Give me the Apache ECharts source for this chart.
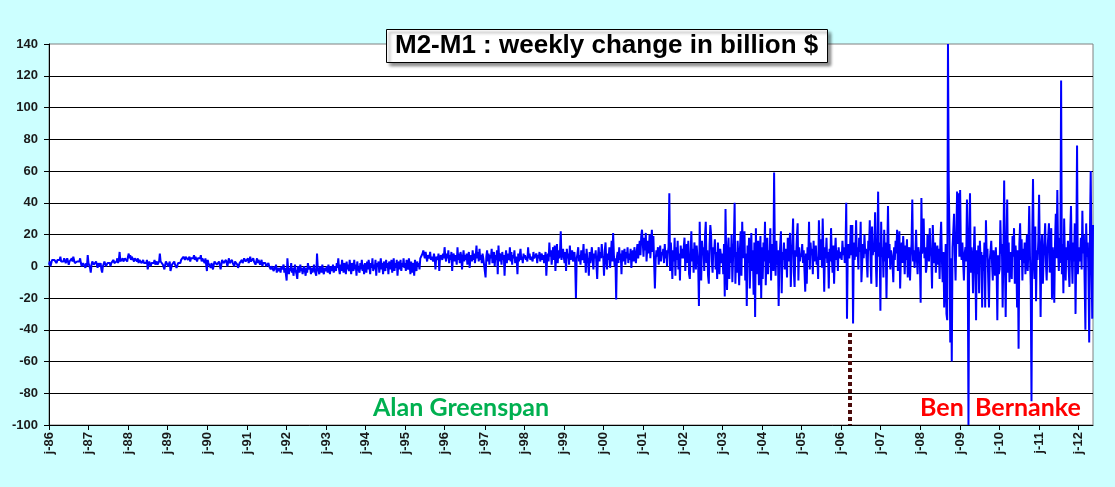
<!DOCTYPE html>
<html>
<head>
<meta charset="utf-8">
<script src="https://cdn.jsdelivr.net/npm/echarts@6/dist/echarts.min.js"></script>
<style>
html,body{margin:0;padding:0;background:#CCFFFF;}
#chart{width:1115px;height:487px;}
</style>
</head>
<body>
<div id="chart"></div>
<script>
// Weekly change of M2-M1, billion $, one array per calendar year (weeks starting Monday)
const y1986 = [1,3,0,2,4,5,3,4,5,3,2,4,5,3,4,6,3,2,4,3,5,4,2,3,5,4,1,3,2,4,5,3,6,4,2,3,1,3,4,2,3,5,2,0,-1,2,1,3,-1,2,0,7];
const y1987 = [2,1,-1,-4,1,3,2,1,0,2,3,1,-1,2,0,1,2,-2,-4,0,1,3,2,0,1,2,1,3,2,0,2,3,1,4,2,3,2,3,5,2,4,9,3,2,4,5,3,2,5,4,6,3];
const y1988 = [6,8,5,7,4,6,7,5,3,5,6,4,3,5,2,4,3,5,2,3,4,2,3,1,2,4,-2,1,3,2,0,2,1,3,2,4,1,2,3,1,2,3,8,3,2,4,1,0,-2,1,3,2];
const y1989 = [2,0,1,3,-3,-2,1,2,0,3,1,2,-1,0,2,1,3,2,4,5,3,6,5,4,6,5,7,4,5,6,3,5,6,4,5,7,4,6,5,3,5,6,4,5,7,3,5,4,6,2,5,4];
const y1990 = [-3,4,2,1,3,-1,2,0,-2,1,3,2,4,1,2,0,3,2,-2,1,4,5,2,3,1,4,2,0,3,5,2,1,3,4,2,1,0,3,2,4,1,-1,-2,2,3,1,4,2,3,5,6,3,2];
const y1991 = [3,5,2,4,6,3,4,2,5,3,4,1,3,5,2,4,3,1,2,4,0,2,3,1,2,0,1,-1,2,0,1,-2,0,1,-1,-3,0,-2,1,-4,-1,0,-3,-1,-4,0,-2,-3,1,-4,-1,-2];
const y1992 = [-9,5,-2,-5,-1,-3,2,-4,-1,-6,-2,1,-3,-5,-8,0,-2,-4,1,-3,-1,-5,-2,0,-3,-6,-1,-4,2,-2,-3,0,-5,-1,-4,-2,1,-3,-2,-6,8,-1,-3,-5,0,-2,-4,1,-3,-5,-1,-2];
const y1993 = [-3,0,-4,1,-2,-5,0,-1,-3,1,-4,-2,0,-3,2,-1,5,-2,-5,1,-3,4,-1,-4,2,0,-5,3,-2,1,-3,4,-1,-5,2,0,-3,4,-2,1,-6,3,-1,0,-4,2,-2,4,-3,1,-5,2];
const y1994 = [1,-4,3,-2,4,0,-5,2,-1,5,-3,1,-2,4,-6,2,0,3,-4,1,5,-2,2,-5,3,0,-3,4,-1,2,-5,3,1,-2,4,-4,0,5,-3,2,-1,4,-6,1,3,-2,4,-3,2,0,5,-1];
const y1995 = [2,-3,4,0,-2,5,1,-5,3,-4,2,0,-6,4,1,-3,3,0,2,-2,5,4,6,8,10,7,5,9,6,3,7,8,5,9,4,6,7,3,8,5,-2,6,7,4,8,-3,5,7,6,4,8,5];
const y1996 = [12,6,3,8,5,10,2,7,4,9,-3,6,8,3,7,5,1,12,4,8,2,9,6,-2,5,10,3,7,4,8,1,6,9,-1,5,7,3,10,4,8,2,6,13,5,9,3,11,4,7,2,8,5,6];
const y1997 = [4,-7,6,10,3,8,1,7,5,11,2,6,9,0,7,4,10,-5,13,3,8,6,1,9,4,7,-6,5,10,2,8,6,4,12,3,9,1,7,5,10,2,6,4,-5,8,3,7,11,4,6,2,8];
const y1998 = [5,7,4,6,3,12,5,8,4,6,7,3,9,5,6,4,8,2,7,5,9,3,6,8,4,7,2,5,9,-6,4,8,3,15,6,10,1,7,12,4,13,-3,8,14,2,10,5,9,22,4,8,11];
const y1999 = [6,2,9,-3,11,5,8,1,13,4,7,10,3,6,9,2,-20,5,8,12,3,7,1,10,4,6,14,2,8,-4,11,5,3,-6,9,2,7,12,4,-2,8,5,10,1,-8,6,12,3,9,5,14,7];
const y2000 = [5,-6,10,15,2,-2,8,4,12,-1,6,16,3,21,7,0,5,-21,6,9,2,12,4,8,-5,10,3,7,11,1,9,5,12,2,8,4,11,-1,7,10,3,12,6,2,9,14,5,11,16,7,19,23];
const y2001 = [15,6,18,10,21,3,12,16,8,20,5,14,23,9,19,2,-14,4,10,6,12,1,8,13,3,9,7,11,2,14,5,10,0,8,12,46,-3,15,6,-8,10,3,18,-6,12,4,16,-2,8,-9,13,5,11];
const y2002 = [5,12,18,-3,9,14,2,16,-5,-8,7,22,3,11,-4,15,8,-2,13,6,1,-25,28,4,-9,16,7,12,-3,19,28,2,10,-6,-11,14,26,20,3,-4,12,8,17,-2,9,-8,15,4,-5,11,7,2];
const y2003 = [8,-5,14,-19,36,3,-15,10,18,-8,12,2,20,-10,6,15,40,-11,9,-4,16,3,-12,11,22,-6,28,5,14,22,-9,8,-25,13,2,18,-14,6,21,-3,10,-18,15,-32,24,-5,9,16,-12,4,19,-20];
const y2004 = [12,-8,15,3,28,-12,7,18,-5,10,2,24,-9,14,6,-3,59,8,-6,16,1,10,-25,5,13,22,-17,9,4,15,-2,11,6,-7,18,3,12,21,-13,8,14,30,-4,-13,10,6,19,27,-9,12,3,8];
const y2005 = [6,14,2,10,-3,-16,8,-11,12,4,28,-2,15,7,11,-5,16,3,9,13,1,6,-8,29,10,4,17,-1,30,8,-16,12,5,18,2,9,-14,11,3,24,6,-4,13,-11,7,18,4,10,-3,12,5,9];
const y2006 = [10,4,16,7,12,2,8,40,-33,9,14,5,11,26,7,26,-36,15,4,10,29,6,12,-2,18,9,28,-10,-9,14,5,20,8,11,3,-7,16,10,29,4,-11,25,7,13,9,34,2,-13,11,47,6,15];
const y2007 = [-28,28,6,12,-7,23,3,15,-20,9,38,5,14,-2,10,7,1,-10,12,4,16,8,23,-3,11,22,-14,6,15,2,19,9,-5,13,4,17,-7,8,12,-9,6,14,42,3,10,-1,7,23,5,-5,12,8,4];
const y2008 = [-23,43,8,14,30,5,12,-4,0,20,9,3,24,11,6,-14,26,10,2,15,-4,8,13,1,11,-8,16,28,4,-10,9,-26,-5,14,-30,-34,140,52,20,-48,5,-60,12,22,33,8,-9,18,47,14,46,6];
const y2009 = [48,10,4,15,2,-9,8,12,3,42,6,-100,20,46,-4,12,5,-17,9,25,1,-34,10,-5,13,-17,16,4,9,-26,7,-3,15,-26,29,6,11,-8,-26,4,9,16,2,-9,10,3,-6,12,1,-34,7,-5];
const y2010 = [-2,29,8,14,-26,10,54,3,-32,12,42,-4,15,-10,9,3,-8,19,6,24,-11,13,5,-26,10,-52,14,27,4,17,-9,11,2,15,-5,9,20,-3,12,38,6,-12,-85,18,55,3,-8,25,-22,10,4,16];
const y2011 = [45,8,-32,12,20,-11,6,15,27,2,-9,10,18,27,-4,8,24,-21,12,3,-23,15,33,5,48,10,-3,18,2,117,-5,14,-17,30,6,-9,12,4,16,-2,-13,20,38,7,-11,15,3,27,-30,10,76,-5];
const y2012 = [-5,12,3,18,-2,35,8,20,-10,-40,27,6,15,-3,-48,22,60,5,-33,26];

const years = [1986,1987,1988,1989,1990,1991,1992,1993,1994,1995,1996,1997,1998,1999,2000,2001,2002,2003,2004,2005,2006,2007,2008,2009,2010,2011,2012];
const yearData = [y1986,y1987,y1988,y1989,y1990,y1991,y1992,y1993,y1994,y1995,y1996,y1997,y1998,y1999,y2000,y2001,y2002,y2003,y2004,y2005,y2006,y2007,y2008,y2009,y2010,y2011,y2012];

const yTicks = {min: -100, max: 140, step: 20};
const titleText = 'M2-M1 : weekly change in billion $';
const eraLeft = 'Alan Greenspan';
const eraRight1 = 'Ben';
const eraRight2 = 'Bernanke';
const bernankeYear = 2006, bernankeWeek = 12;   // dotted marker week
const markerTop = -42;

// build categories (one per week) and values
const categories = [];
const values = [];
const yearStartIdx = new Set();
let bernankeCat = null;
years.forEach((yr, k) => {
  const arr = yearData[k];
  yearStartIdx.add(categories.length);
  arr.forEach((v, w) => {
    const name = yr + '-' + (w + 1);
    if (yr === bernankeYear && w === bernankeWeek) bernankeCat = name;
    categories.push(name);
    values.push(v);
  });
});

const chart = echarts.init(document.getElementById('chart'), null, {renderer: 'canvas'});
const labelFont = {fontFamily: 'Liberation Sans, Arial, sans-serif', fontWeight: 'bold', fontSize: 13, color: '#1a1a1a'};

chart.setOption({
  backgroundColor: '#CCFFFF',
  animation: false,
  title: {
    text: titleText,
    left: 386, top: 29,
    padding: [3, 9, 3, 9],
    backgroundColor: '#ffffff',
    borderColor: '#000000',
    borderWidth: 1,
    shadowColor: 'rgba(0,0,0,0.45)',
    shadowBlur: 3,
    shadowOffsetX: 3,
    shadowOffsetY: 3,
    textStyle: {fontFamily: 'Liberation Sans, Arial, sans-serif', fontWeight: 'bold', fontSize: 26, color: '#000', lineHeight: 28}
  },
  grid: {left: 49, right: 22, top: 44, bottom: 62, show: true, backgroundColor: '#ffffff', borderColor: '#808080', borderWidth: 1},
  xAxis: {
    type: 'category',
    data: categories,
    boundaryGap: false,
    axisLine: {onZero: false, lineStyle: {color: '#000', width: 1}},
    axisTick: {show: true, length: 5, interval: (i) => yearStartIdx.has(i), lineStyle: {color: '#000'}},
    axisLabel: Object.assign({
      interval: (i) => yearStartIdx.has(i),
      rotate: 90,
      margin: 7,
      formatter: (v) => 'j-' + v.slice(2, 4)
    }, labelFont),
    splitLine: {show: false}
  },
  yAxis: {
    type: 'value',
    min: yTicks.min, max: yTicks.max, interval: yTicks.step,
    axisLine: {show: true, lineStyle: {color: '#000', width: 1}},
    axisTick: {show: true, length: 5, lineStyle: {color: '#000'}},
    axisLabel: Object.assign({margin: 11}, labelFont),
    splitLine: {show: true, showMaxLine: false, showMinLine: false, lineStyle: {color: '#000', width: 1}}
  },
  series: [{
    type: 'line',
    data: values,
    showSymbol: false,
    symbol: 'none',
    clip: true,
    lineStyle: {color: '#0000FF', width: 2},
    markLine: {
      silent: true,
      symbol: 'none',
      label: {show: false},
      lineStyle: {color: '#4a0a0a', width: 4, type: [4, 3]},
      data: [[{coord: [bernankeCat, markerTop]}, {coord: [bernankeCat, yTicks.min]}]]
    }
  }],
  graphic: [
    {type: 'text', left: 373, top: 395, style: {text: eraLeft, fill: '#00B050', font: 'bold 25px Lato, sans-serif'}},
    {type: 'text', left: 920, top: 395, style: {text: eraRight1, fill: '#FF0000', font: 'bold 25px Lato, sans-serif'}},
    {type: 'text', left: 975, top: 395, style: {text: eraRight2, fill: '#FF0000', font: 'bold 25px Lato, sans-serif'}}
  ]
});
</script>
</body>
</html>
